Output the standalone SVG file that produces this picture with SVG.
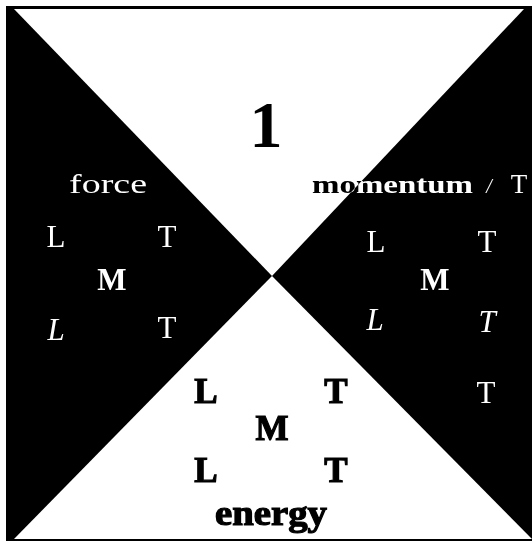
<svg xmlns="http://www.w3.org/2000/svg" width="532" height="542" viewBox="0 0 532 542">
<style>
  text { font-family: "Liberation Serif", "Times New Roman", serif; text-anchor: middle; }
  .w { fill: #ffffff; }
  .k { fill: #000000; }
  .b { font-weight: bold; }
  .i { font-style: italic; }
  .s31 { font-size: 31px; }
  .heavy { font-weight: bold; font-size: 35px; fill: #000; stroke: #000; stroke-width: 1.2px; }
  .diff { mix-blend-mode: difference; fill: #ffffff; }
</style>
<rect x="0" y="0" width="532" height="542" fill="#ffffff"/>
<g id="frame">
  <rect x="6" y="6" width="526" height="535" fill="#000000"/>
  <polygon points="14,9 524,9 272,276" fill="#ffffff"/>
  <polygon points="14,539 532,539 272,276" fill="#ffffff"/>
</g>
<g id="top-dimensionless">
  <text class="k b" x="266" y="147" style="font-size:66px">1</text>
</g>
<g id="force">
  <text class="w" x="69" y="193" style="font-size:27px;text-anchor:start" textLength="78" lengthAdjust="spacingAndGlyphs">force</text>
  <text class="w s31" x="56" y="247">L</text>
  <text class="w s31" x="167" y="247">T</text>
  <text class="w s31 b" x="112" y="290">M</text>
  <text class="w s31 i" x="56" y="340">L</text>
  <text class="w s31" x="167" y="338">T</text>
</g>
<g id="momentum">
  <text class="diff b" x="312" y="193" style="font-size:25px;text-anchor:start" textLength="161" lengthAdjust="spacingAndGlyphs">momentum</text>
  <text class="w i" x="489" y="193" style="font-size:20px">/</text>
  <text class="w" x="519" y="193" style="font-size:27px">T</text>
  <text class="w s31" x="376" y="252">L</text>
  <text class="w s31" x="487" y="252">T</text>
  <text class="w s31 b" x="435" y="290">M</text>
  <text class="w s31 i" x="375" y="330">L</text>
  <text class="w s31 i" x="487" y="332">T</text>
  <text class="w s31" x="486" y="403">T</text>
</g>
<g id="energy">
  <text class="heavy" x="206" y="403">L</text>
  <text class="heavy" x="336" y="403">T</text>
  <text class="heavy" x="272" y="440">M</text>
  <text class="heavy" x="206" y="482">L</text>
  <text class="heavy" x="336" y="482">T</text>
  <text class="heavy" x="215" y="525" style="font-size:36px;text-anchor:start" textLength="112" lengthAdjust="spacingAndGlyphs">energy</text>
</g>
<g id="connectors"></g>
</svg>
